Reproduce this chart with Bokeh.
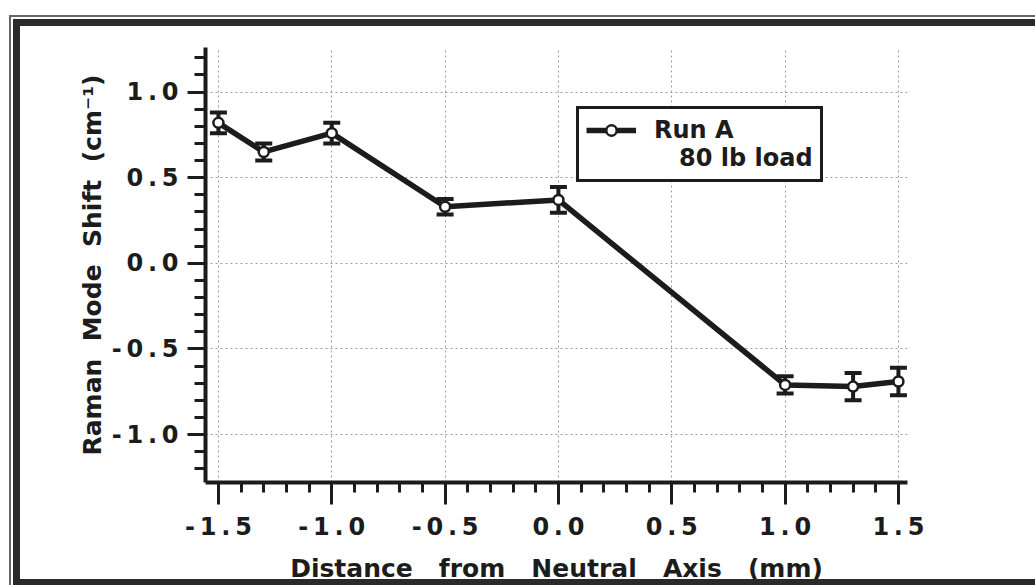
from bokeh.plotting import figure
from bokeh.models import (ColumnDataSource, FixedTicker, Whisker, TeeHead, Legend,
                          LegendItem, Range1d, InlineStyleSheet)
from bokeh.embed import file_html
from bokeh.resources import INLINE

# Measured Raman mode shift across the beam section (Run A, 80 lb load)
distance_mm = [-1.5, -1.3, -1.0, -0.5, 0.0, 1.0, 1.3, 1.5]
raman_shift = [0.82, 0.65, 0.76, 0.33, 0.37, -0.71, -0.72, -0.69]
shift_error = [0.06, 0.05, 0.06, 0.045, 0.075, 0.05, 0.08, 0.08]

TS = "\u2009"  # thin space used to open up the tick numerals
x_major_ticks = [-1.5, -1.0, -0.5, 0.0, 0.5, 1.0, 1.5]
x_tick_labels = ["-" + TS + "1" + TS + "." + TS + "5", "-" + TS + "1" + TS + "." + TS + "0",
                 "-" + TS + "0" + TS + "." + TS + "5", "0" + TS + "." + TS + "0",
                 "0" + TS + "." + TS + "5", "1" + TS + "." + TS + "0", "1" + TS + "." + TS + "5"]
y_major_ticks = [-1.0, -0.5, 0.0, 0.5, 1.0]
y_tick_labels = ["-" + TS + "1" + TS + "." + TS + "0", "-" + TS + "0" + TS + "." + TS + "5",
                 "0" + TS + "." + TS + "0", "0" + TS + "." + TS + "5", "1" + TS + "." + TS + "0"]
x_minor_ticks = [round(-1.5 + 0.1 * i, 1) for i in range(31)]
y_minor_ticks = [round(-1.2 + 0.1 * i, 1) for i in range(25)]

INK = "#1c1c1c"
FONT = "DejaVu Sans"

src = ColumnDataSource(dict(
    x=distance_mm,
    y=raman_shift,
    upper=[v + e for v, e in zip(raman_shift, shift_error)],
    lower=[v - e for v, e in zip(raman_shift, shift_error)],
))

# page frame: thin outer rule and heavy inner rule along the left, top and bottom,
# painted as background strips on one overlay that covers the whole page
frame_css = InlineStyleSheet(css="""
:host { position: relative; }
:host::before {
  content: ""; position: absolute; left: 0; top: 0; width: 1035px; height: 585px;
  border: none; pointer-events: none; z-index: 5;
  background:
    linear-gradient(#666, #666) 9px 15px / 2px 570px no-repeat,
    linear-gradient(#666, #666) 9px 15px / 1026px 2px no-repeat,
    linear-gradient(#2a2a2a, #2a2a2a) 13px 19px / 7px 566px no-repeat,
    linear-gradient(#2a2a2a, #2a2a2a) 13px 19px / 1022px 7px no-repeat,
    linear-gradient(#2a2a2a, #2a2a2a) 13px 579px / 1022px 6px no-repeat;
}
""")

p = figure(width=1035, height=585, output_backend="svg", toolbar_location=None,
           x_range=Range1d(-1.557, 1.54), y_range=Range1d(-1.28, 1.26),
           min_border_left=205, min_border_right=128,
           min_border_top=47, min_border_bottom=100,
           stylesheets=[frame_css])
p.outline_line_color = None
p.background_fill_color = "white"
p.border_fill_color = "white"

# axes
p.xaxis.ticker = FixedTicker(ticks=x_major_ticks, minor_ticks=x_minor_ticks)
p.yaxis.ticker = FixedTicker(ticks=y_major_ticks, minor_ticks=y_minor_ticks)
p.xaxis.major_label_overrides = dict(zip(x_major_ticks, x_tick_labels))
p.yaxis.major_label_overrides = dict(zip(y_major_ticks, y_tick_labels))

for ax in (p.xaxis[0], p.yaxis[0]):
    ax.axis_line_width = 4
    ax.axis_line_color = INK
    ax.major_tick_line_width = 3
    ax.major_tick_line_color = INK
    ax.minor_tick_line_width = 3
    ax.minor_tick_line_color = INK
    ax.major_tick_in = 0
    ax.minor_tick_in = 0
    ax.major_label_text_font = FONT
    ax.major_label_text_font_style = "bold"
    ax.major_label_text_font_size = "24px"
    ax.major_label_text_color = INK
    ax.axis_label_text_font = FONT
    ax.axis_label_text_font_style = "bold"
    ax.axis_label_text_font_size = "25px"
    ax.axis_label_text_color = INK

p.xaxis.major_tick_out = 22
p.xaxis.minor_tick_out = 10
p.xaxis.major_label_standoff = 8
p.xaxis.axis_label_standoff = 10
p.yaxis.major_tick_out = 18
p.yaxis.minor_tick_out = 11
p.yaxis.major_label_standoff = 9
p.yaxis.axis_label_standoff = 2

p.xaxis.axis_label = ("\u00a0" * 3).join(["Distance", "from", "Neutral", "Axis", "(mm)"])
p.yaxis.axis_label = ("\u00a0" * 2).join(["Raman", "Mode", "Shift", "(cm\u207b\u00b9)"])

# dotted grid
for g in (p.xgrid[0], p.ygrid[0]):
    g.grid_line_color = "#9a9a9a"
    g.grid_line_width = 1
    g.grid_line_dash = "2 3"

# error bars
whisker = Whisker(source=src, base="x", upper="upper", lower="lower",
                  line_color=INK, line_width=4, level="underlay",
                  upper_head=TeeHead(size=17, line_width=4, line_color=INK),
                  lower_head=TeeHead(size=17, line_width=4, line_color=INK))
p.add_layout(whisker)

run_line = p.line("x", "y", source=src, line_width=5.5, line_color=INK)
run_pts = p.scatter("x", "y", source=src, marker="circle", size=10,
                    fill_color="white", line_color=INK, line_width=2.5)

# legend
blank = p.line([0], [0], line_alpha=0)
legend = Legend(items=[
    LegendItem(label="Run A", renderers=[run_line, run_pts]),
    LegendItem(label="\u00a0" * 3 + "80 lb load", renderers=[blank]),
], location=(371, 300))
legend.glyph_width = 50
legend.glyph_height = 26
legend.label_standoff = 18
legend.padding = 7
legend.spacing = 0
legend.margin = 0
legend.border_line_color = INK
legend.border_line_alpha = 1
legend.border_line_width = 3
legend.background_fill_color = "white"
legend.background_fill_alpha = 1
legend.label_text_font = FONT
legend.label_text_font_style = "bold"
legend.label_text_font_size = "24px"
legend.label_text_color = INK
legend.label_height = 26
p.add_layout(legend)

open("out.html", "w").write(file_html(p, INLINE))
